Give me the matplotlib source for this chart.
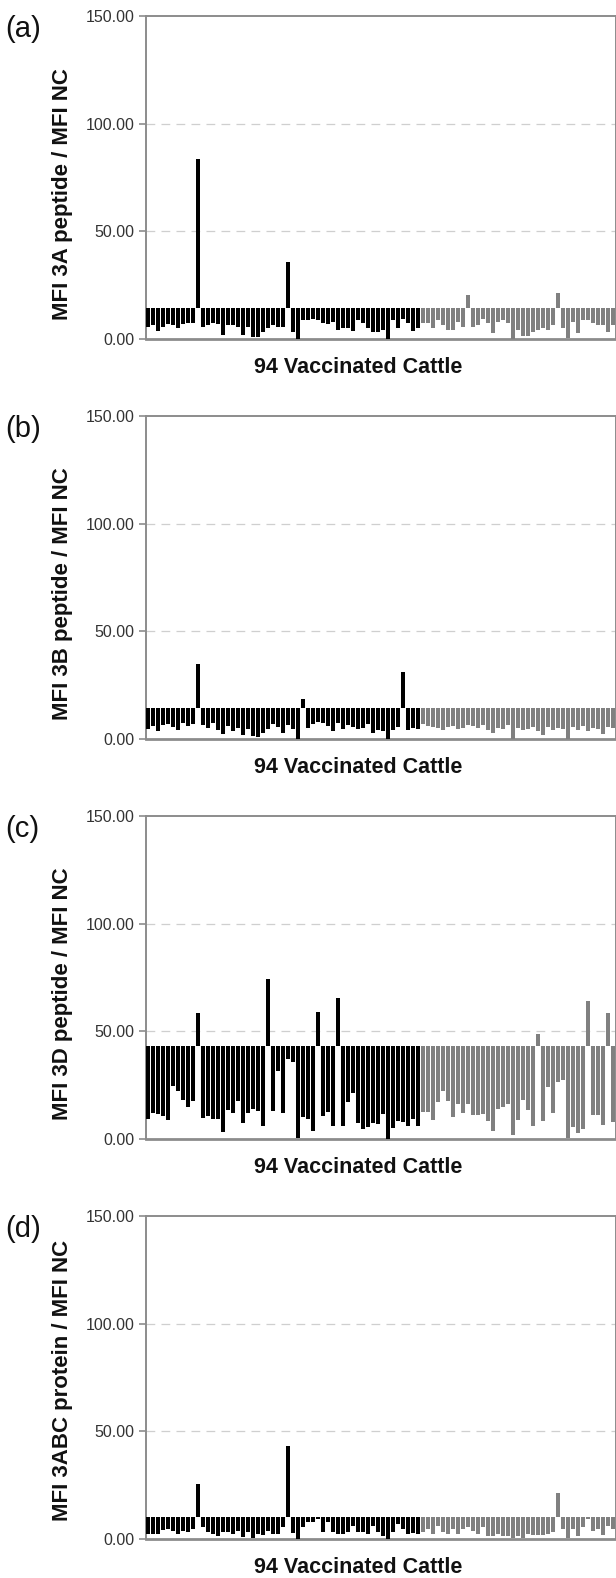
import matplotlib
matplotlib.use("Agg")
import matplotlib.pyplot as plt
import numpy as np

plt.rcParams['font.family'] = ['Liberation Sans', 'DejaVu Sans']

panel_letters = ["(a)", "(b)", "(c)", "(d)"]
y_labels = ["MFI 3A peptide / MFI NC", "MFI 3B peptide / MFI NC",
            "MFI 3D peptide / MFI NC", "MFI 3ABC protein / MFI NC"]
x_label = "94 Vaccinated Cattle"
y_ticks = [0, 50, 100, 150]
y_tick_labels = ["0.00", "50.00", "100.00", "150.00"]
n_group1 = 55  # black bars; remaining bars are grey

cutoffs = [14.3, 14.3, 43.3, 10.1]

values_3a = [5.7, 6.5, 3.9, 5.7, 6.8, 6.5, 5.0, 6.8, 7.6, 7.3,
             83.6, 5.7, 6.5, 7.3, 7.0, 1.9, 6.5, 6.5, 5.7, 1.9,
             5.7, 0.8, 0.8, 3.4, 5.0, 6.5, 5.7, 5.7, 35.9, 3.4,
             0.0, 8.8, 8.8, 9.4, 9.0, 7.3, 7.0, 8.0, 4.2, 5.0,
             5.0, 3.9, 8.8, 7.3, 5.0, 3.4, 3.4, 4.2, 0.0, 8.8,
             5.0, 9.4, 7.3, 3.9, 5.0, 7.3, 7.3, 5.0, 8.8, 6.5,
             4.2, 4.2, 8.0, 5.7, 20.4, 5.7, 6.5, 9.4, 7.3, 2.6,
             8.0, 8.8, 7.3, 0.0, 4.2, 1.4, 1.4, 3.4, 4.2, 5.0,
             4.2, 6.5, 21.2, 5.0, 0.3, 8.0, 2.6, 8.8, 8.8, 7.3,
             6.5, 6.5, 3.4, 6.5]

values_3b = [4.5, 6.0, 3.5, 6.5, 7.0, 5.5, 4.0, 7.5, 6.0, 7.0,
             34.8, 6.5, 5.0, 7.5, 4.0, 2.5, 6.0, 3.5, 5.0, 2.0,
             4.5, 1.5, 1.0, 3.0, 4.5, 7.0, 5.5, 3.0, 6.5, 4.5,
             0.0, 18.7, 5.0, 7.0, 8.0, 7.5, 6.0, 3.5, 7.5, 4.5,
             6.5, 5.5, 4.5, 5.0, 7.0, 3.0, 4.0, 3.5, 0.0, 4.0,
             5.5, 31.3, 4.0, 5.0, 4.5, 7.0, 6.0, 5.5, 5.0, 4.0,
             5.5, 6.0, 4.5, 5.0, 6.5, 6.0, 5.0, 6.5, 4.0, 3.0,
             5.0, 4.5, 6.5, 0.0, 5.0, 4.0, 4.5, 5.5, 3.5, 2.0,
             5.5, 4.0, 5.0, 4.5, 0.0, 5.5, 4.0, 6.0, 3.5, 5.0,
             4.5, 2.5, 5.5, 5.0]

values_3d = [9.3, 11.9, 11.6, 10.8, 9.0, 24.8, 22.4, 18.1, 14.7, 17.5,
             58.4, 9.8, 10.8, 9.3, 9.3, 3.1, 13.5, 11.9, 17.5, 7.3,
             11.9, 13.9, 13.2, 6.2, 74.3, 13.2, 31.4, 11.9, 37.2, 35.6,
             0.5, 10.1, 9.3, 3.9, 58.8, 10.8, 12.4, 6.2, 65.3, 6.2,
             17.0, 21.2, 7.3, 4.6, 5.4, 7.3, 7.0, 11.6, 0.0, 5.1,
             8.5, 7.7, 6.2, 9.3, 6.2, 12.4, 12.4, 8.8, 17.0, 22.4,
             17.8, 10.4, 16.3, 11.9, 16.3, 11.3, 11.3, 11.6, 8.5, 3.6,
             13.9, 14.7, 16.3, 2.0, 8.8, 18.1, 13.5, 6.2, 48.8, 8.5,
             24.0, 11.9, 26.3, 27.4, 0.5, 5.4, 2.6, 4.6, 64.2, 11.3,
             11.3, 6.7, 58.4, 7.7]

values_3abc = [2.3, 2.3, 2.3, 4.3, 4.7, 3.9, 2.3, 3.9, 3.4, 4.7,
               25.6, 5.4, 3.4, 2.3, 1.6, 3.1, 3.1, 2.3, 3.9, 0.8,
               3.1, 0.3, 2.3, 1.9, 3.9, 2.3, 2.3, 5.4, 43.4, 2.8,
               0.0, 5.4, 7.8, 8.1, 9.3, 3.1, 7.8, 3.1, 2.3, 2.3,
               3.1, 6.2, 3.4, 3.4, 2.3, 6.2, 3.1, 1.6, 0.0, 3.1,
               7.0, 4.7, 2.3, 2.8, 2.3, 3.4, 4.7, 2.3, 6.2, 3.1,
               2.3, 4.7, 2.3, 4.7, 5.4, 3.9, 2.3, 5.4, 1.6, 1.6,
               2.3, 1.6, 1.6, 0.3, 1.6, 0.3, 2.3, 1.9, 1.9, 1.9,
               2.3, 3.1, 21.4, 4.7, 0.3, 4.7, 1.6, 5.4, 9.5, 3.9,
               4.7, 1.9, 6.2, 4.7]

all_values = [values_3a, values_3b, values_3d, values_3abc]

W, H = 616, 1578
dpi = 100
fig = plt.figure(figsize=(W / dpi, H / dpi), dpi=dpi)

ax_left_px, ax_right_px = 145.7, 615.5
period = 400.0
top0, bot0 = 16.0, 339.0
ylabel_y = [0.45, 0.45, 0.45, 0.49]

spine_col = "#8c8c8c"
for k in range(4):
    top = top0 + period * k
    bot = bot0 + period * k
    ax = fig.add_axes([ax_left_px / W, 1 - bot / H,
                       (ax_right_px - ax_left_px) / W, (bot - top) / H])
    vals = np.array(all_values[k])
    n = len(vals)
    x = np.arange(n)
    cut = cutoffs[k]
    colors = ["#000000" if i < n_group1 else "#808080" for i in range(n)]
    ax.bar(x, vals - cut, bottom=cut, width=0.7, color=colors,
           linewidth=0, zorder=3)
    ax.set_xlim(-0.5, n - 0.5)
    ax.set_ylim(0, 150)
    ax.set_yticks(y_ticks)
    ax.set_yticklabels(y_tick_labels, fontsize=11.5, color="#333333")
    ax.set_xticks([])
    for yv in [50, 100]:
        ax.axhline(yv, color="#cfcfcf", lw=0.9, ls=(0, (7, 5)), zorder=1)
    for s in ["left", "right", "top"]:
        ax.spines[s].set_color(spine_col)
        ax.spines[s].set_linewidth(1.4)
    ax.spines["bottom"].set_color(spine_col)
    ax.spines["bottom"].set_linewidth(2.0)
    ax.tick_params(axis="y", length=5, width=1.2, color=spine_col, pad=3)
    ax.set_ylabel(y_labels[k], fontsize=16, fontweight="bold",
                  color="#111111")
    ax.yaxis.set_label_coords(-0.155, ylabel_y[k])
    ax.set_xlabel(x_label, fontsize=15.5, fontweight="bold", color="#111111")
    ax.xaxis.set_label_coords(0.452, -0.055)
    fig.text(5 / W, 1 - (top - 1) / H, panel_letters[k], fontsize=21,
             va="top", ha="left", color="#111111")

fig.savefig("out.png", dpi=dpi)
